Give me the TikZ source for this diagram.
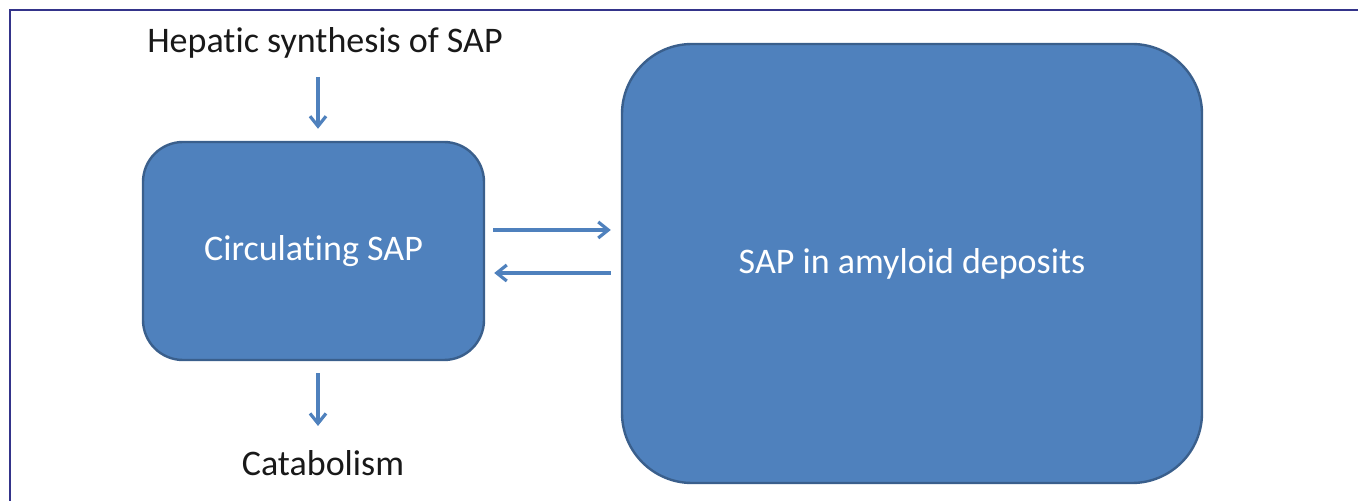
\documentclass[tikz,border=0pt]{standalone}
\usepackage{fontspec}
\setmainfont[Ligatures=NoCommon]{Carlito}
\usepackage{tikz}
\usetikzlibrary{arrows.meta,positioning}
\usetikzlibrary{calc}

\definecolor{sapfill}{HTML}{4F81BD}
\definecolor{sapline}{HTML}{3A5F8C}
\definecolor{frameline}{HTML}{34348A}

\begin{document}
\begin{tikzpicture}[
  x=0.5pt, y=-0.5pt,
  box/.style={draw=sapline, fill=sapfill, line width=1.2pt, text=white, align=center, font=\fontsize{18}{21}\selectfont},
  lbl/.style={font=\fontsize{18}{21}\selectfont, text=black!90, inner sep=0pt},
  arr/.style={-{Straight Barb[length=5pt, width=8pt]}, draw=sapfill, line width=1.6pt}
]
  \useasboundingbox (0,0) rectangle (1358,501);
  % frame
  \draw[frameline, line width=1.4pt] (10,501) -- (10,10) -- (1358,10);

  % boxes
  \node[box, rounded corners=20pt, minimum width=170.5pt, minimum height=109pt] (circ) at (313.5,251) {Circulating SAP};
  \node[box, rounded corners=35pt, minimum width=290pt, minimum height=219.5pt] (dep) at (912,263.5) {SAP in amyloid deposits};

  % labels
  \node[lbl] (hep) at (325,43) {Hepatic synthesis of SAP};
  \node[lbl] (cat) at (323,463) {Catabolism};
  \coordinate (axis) at (318,0);

  \draw[arr, shorten <=9pt, shorten >=6pt] (axis |- hep.south) -- (axis |- circ.north);
  \draw[arr, shorten <=6pt, shorten >=12pt] (axis |- circ.south) -- (axis |- cat.north);
  \draw[arr, shorten <=4pt, shorten >=5pt] ($(circ.east)+(0,-21)$) -- ($(dep.west)+(0,-33.5)$);
  \draw[arr, shorten <=5pt, shorten >=4.5pt] ($(dep.west)+(0,9.5)$) -- ($(circ.east)+(0,22)$);
\end{tikzpicture}
\end{document}
